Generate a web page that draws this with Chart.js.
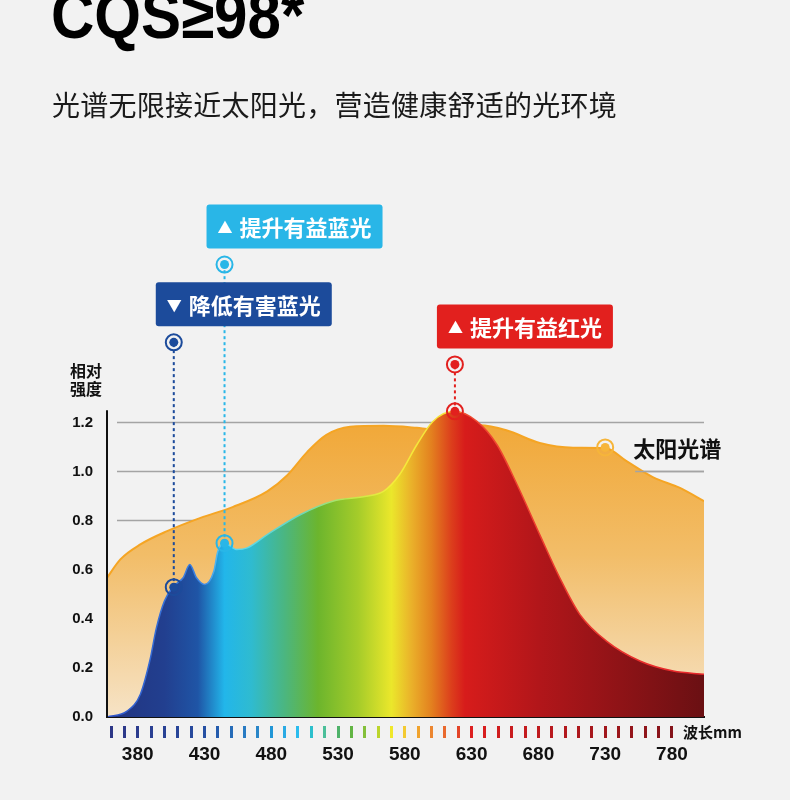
<!DOCTYPE html>
<html>
<head>
<meta charset="utf-8">
<script src="https://cdn.jsdelivr.net/npm/chart.js@4.4.0/dist/chart.umd.min.js"></script>
<style>
    body { margin: 0; background: #f2f2f2; }
    #wrap { position: relative; width: 790px; height: 800px; overflow: hidden; background: #f2f2f2; }
    #spectrum { position: absolute; left: 0; top: 0; }
    .txt { position: absolute; white-space: nowrap; color: #111; }
    #title { left: 51px; top: -18px; font: bold 66px/66px "Liberation Sans", Arial, sans-serif; color: #000; transform: scaleX(0.91); transform-origin: 0 0; }
    #subtitle { left: 52px; top: 90px; font: 28px/28px "Noto Sans CJK SC", sans-serif; letter-spacing: 0.25px; color: #1a1a1a; }
    #yCaption { left: 70px; top: 361px; font: bold 16px/18px "Noto Sans CJK SC", sans-serif; }
    #xCaption { left: 683px; top: 721px; font: bold 15px/22px "Noto Sans CJK SC", sans-serif; }
</style>
</head>
<body>
<div id="wrap">
    <canvas id="spectrum" width="790" height="800"></canvas>
    <div class="txt" id="title">CQS≥98*</div>
    <div class="txt" id="subtitle">光谱无限接近太阳光，营造健康舒适的光环境</div>
    <div class="txt" id="yCaption">相对<br>强度</div>
    <div class="txt" id="xCaption">波长mm</div>
</div>
<script>
// 太阳光谱
const sunWavelength = [357, 367, 382, 402, 427, 451, 477, 492, 507, 521, 539, 564, 589, 600, 615, 636, 656, 681, 706, 730, 746, 766, 786, 804];
const sunIntensity = [0.567, 0.642, 0.703, 0.757, 0.811, 0.855, 0.919, 0.985, 1.08, 1.148, 1.182, 1.186, 1.178, 1.172, 1.178, 1.188, 1.168, 1.116, 1.097, 1.096, 1.042, 0.976, 0.933, 0.879];

// 灯光光谱
const ledWavelength = [357, 372, 382, 389, 394, 400, 407, 414, 419, 424, 430, 437, 440, 445, 454, 462, 477, 502, 526, 551, 564, 576, 589, 601, 617, 634, 649, 664, 681, 696, 711, 731, 756, 781, 804];
const ledIntensity = [0, 0.024, 0.093, 0.228, 0.363, 0.472, 0.533, 0.567, 0.621, 0.567, 0.54, 0.594, 0.675, 0.709, 0.682, 0.689, 0.743, 0.825, 0.879, 0.899, 0.919, 0.987, 1.109, 1.204, 1.245, 1.204, 1.109, 0.947, 0.743, 0.567, 0.418, 0.309, 0.228, 0.187, 0.174];

// 标注
const calloutArrows = ['▼', '▲', '▲'];
const calloutLabels = ['降低有害蓝光', '提升有益蓝光', '提升有益红光'];
const calloutWavelength = [407, 445, 617.5];
const calloutLow = [0.529, 0.708, 1.245];
const calloutHigh = [1.526, 1.843, 1.436];
const sunMarkerWavelength = 730;
const sunMarkerIntensity = 1.098;
const sunLabel = '太阳光谱';

// 坐标轴
const yTickValues = [0, 0.2, 0.4, 0.6, 0.8, 1.0, 1.2];
const yAxisTop = 1.25;
const xTickValues = [380, 430, 480, 530, 580, 630, 680, 730, 780];
const stripWavelengths = [360, 370, 380, 390, 400, 410, 420, 430, 440, 450, 460, 470, 480, 490, 500, 510, 520, 530, 540, 550, 560, 570, 580, 590, 600, 610, 620, 630, 640, 650, 660, 670, 680, 690, 700, 710, 720, 730, 740, 750, 760, 770, 780];

// 颜色
const calloutColors = ['#1c4b9b', '#29b6e7', '#e2201e'];
const sunColor = '#f6b53a';
const stripColors = ['#2c3787', '#2c398a', '#2b3c8e', '#2a3f92', '#294295', '#284598', '#27499c', '#2650a3', '#255cad', '#266cb8', '#297bc3', '#2a86c8', '#2196d6', '#2aaae4', '#2bbcee', '#2cbfcc', '#4bbf9a', '#4fb26a', '#62b543', '#84c03a', '#bcd52c', '#f0e82a', '#f3ca32', '#f0a32e', '#ec8630', '#e9692e', '#e34528', '#dd2020', '#d81e1e', '#d01d1e', '#c91c1e', '#c41b1e', '#bf1a1e', '#b9191e', '#b3181d', '#ad181d', '#a7171c', '#a1161c', '#9b161b', '#95151b', '#8f151a', '#8a141a', '#85141a'];
const ledFillNm = [357, 400, 425, 445, 465, 490, 515, 545, 570, 585, 600, 615, 625, 680, 804];
const ledFillColors = ['#22337f', '#223f8f', '#1f55a6', '#22b6ea', '#2fbbd0', '#4bb680', '#6cb52d', '#a5cc2a', '#ebe72b', '#eab12a', '#e3801f', '#dc3e1c', '#d71c1b', '#b2161a', '#6a1013'];
const ledEdgeNm = [357, 430, 445, 500, 540, 570, 615, 625, 804];
const ledEdgeColors = ['#2e52c8', '#3d86e3', '#5ad8f8', '#66d6c0', '#c4e84a', '#f5ec3a', '#f5e13a', '#f04a30', '#e8252a'];

function toPoints(xs, ys) {
    return xs.map((x, i) => ({ x: x, y: ys[i] }));
}

function ledGradient(chart, stopsNm, colors) {
    const { ctx, chartArea, scales } = chart;
    if (!chartArea) return colors[0];
    const g = ctx.createLinearGradient(chartArea.left, 0, chartArea.right, 0);
    const w = chartArea.right - chartArea.left;
    stopsNm.forEach((nm, i) => {
        const p = (scales.x.getPixelForValue(nm) - chartArea.left) / w;
        g.addColorStop(Math.min(1, Math.max(0, p)), colors[i]);
    });
    return g;
}

function sunGradient(chart) {
    const { ctx, chartArea, scales } = chart;
    if (!chartArea) return '#f2b455';
    const g = ctx.createLinearGradient(0, scales.y.getPixelForValue(1.2), 0, chartArea.bottom);
    g.addColorStop(0, '#f1a838');
    g.addColorStop(0.45, '#f2bd68');
    g.addColorStop(1, '#f6e3c6');
    return g;
}

// 网格线与纵轴线
const partialGrid = {
    id: 'partialGrid',
    beforeDatasetsDraw(chart) {
        const { ctx, chartArea, scales: { y } } = chart;
        ctx.save();
        ctx.strokeStyle = '#a4a4a4';
        ctx.lineWidth = 1.5;
        yTickValues.forEach(v => {
            if (v === 0) return;
            const py = y.getPixelForValue(v);
            ctx.beginPath();
            ctx.moveTo(chartArea.left + 10, py);
            ctx.lineTo(chartArea.right, py);
            ctx.stroke();
        });
        ctx.restore();
    },
    afterDatasetsDraw(chart) {
        const { ctx, chartArea, scales: { y } } = chart;
        ctx.save();
        ctx.strokeStyle = '#111';
        ctx.lineWidth = 2;
        ctx.beginPath();
        ctx.moveTo(chartArea.left, y.getPixelForValue(0) + 1);
        ctx.lineTo(chartArea.left, y.getPixelForValue(yAxisTop));
        ctx.stroke();
        ctx.restore();
    }
};

const callouts = {
    id: 'callouts',
    afterDatasetsDraw(chart) {
        const { ctx, chartArea, scales: { x, y } } = chart;
        ctx.save();
        calloutLabels.forEach((label, i) => {
            const px = x.getPixelForValue(calloutWavelength[i]);
            const py = y.getPixelForValue(calloutHigh[i]);
            const bx = px - 18, by = py - 60, bw = 176, bh = 44;
            ctx.fillStyle = calloutColors[i];
            ctx.beginPath();
            ctx.roundRect(bx, by, bw, bh, 3);
            ctx.fill();
            ctx.fillStyle = '#fff';
            ctx.textBaseline = 'middle';
            ctx.textAlign = 'left';
            ctx.font = '15px "Noto Sans CJK SC"';
            ctx.fillText(calloutArrows[i], bx + 11, by + bh / 2 + 1);
            ctx.font = 'bold 22px "Noto Sans CJK SC"';
            ctx.fillText(label, bx + 33, by + bh / 2 + 1);
        });

        // 太阳光谱
        const sx = x.getPixelForValue(sunMarkerWavelength);
        const sy = y.getPixelForValue(sunMarkerIntensity);
        ctx.fillStyle = '#111';
        ctx.font = 'bold 22px "Noto Sans CJK SC"';
        ctx.fillText(sunLabel, sx + 28, sy + 1);
        ctx.strokeStyle = '#a4a4a4';
        ctx.lineWidth = 1.5;
        const ly = y.getPixelForValue(1.0);
        ctx.beginPath();
        ctx.moveTo(sx + 30, ly);
        ctx.lineTo(chartArea.right, ly);
        ctx.stroke();
        ctx.restore();
    }
};

const tickStrip = {
    id: 'tickStrip',
    afterDraw(chart) {
        const { ctx, chartArea, scales: { x } } = chart;
        ctx.save();
        stripWavelengths.forEach((nm, i) => {
            const px = x.getPixelForValue(nm);
            ctx.fillStyle = stripColors[i];
            ctx.fillRect(Math.round(px - 1.5), chartArea.bottom + 9, 3, 12);
        });
        ctx.restore();
    }
};

const calloutLines = calloutLabels.map((label, i) => ({
    type: 'line',
    data: [{ x: calloutWavelength[i], y: calloutLow[i] }, { x: calloutWavelength[i], y: calloutHigh[i] }],
    borderColor: calloutColors[i],
    borderWidth: 2,
    borderDash: [3, 3],
    pointRadius: 8,
    pointBorderWidth: 2,
    pointBorderColor: calloutColors[i],
    pointBackgroundColor: 'rgba(0,0,0,0)',
    fill: false,
    order: 1
}));

const calloutDots = calloutLabels.map((label, i) => ({
    type: 'scatter',
    data: [{ x: calloutWavelength[i], y: calloutLow[i] }, { x: calloutWavelength[i], y: calloutHigh[i] }],
    pointRadius: 4.5,
    pointBorderWidth: 0,
    pointBorderColor: calloutColors[i],
    pointBackgroundColor: calloutColors[i],
    backgroundColor: calloutColors[i],
    showLine: false,
    order: 0
}));

const ctx = document.getElementById('spectrum').getContext('2d');

const chart = new Chart(ctx, {
    type: 'line',
    data: {
        datasets: [
            ...calloutDots,
            ...calloutLines,
            {
                type: 'scatter',
                data: [{ x: sunMarkerWavelength, y: sunMarkerIntensity }],
                pointRadius: 8,
                pointBorderWidth: 2,
                pointBorderColor: sunColor,
                pointBackgroundColor: 'rgba(0,0,0,0)',
                showLine: false,
                order: 1
            },
            {
                type: 'scatter',
                data: [{ x: sunMarkerWavelength, y: sunMarkerIntensity }],
                pointRadius: 4.5,
                pointBorderWidth: 0,
                pointBackgroundColor: sunColor,
                backgroundColor: sunColor,
                showLine: false,
                order: 0
            },
            {
                data: toPoints(ledWavelength, ledIntensity),
                borderColor: (c) => ledGradient(c.chart, ledEdgeNm, ledEdgeColors),
                backgroundColor: (c) => ledGradient(c.chart, ledFillNm, ledFillColors),
                borderWidth: 1.5,
                fill: 'origin',
                pointRadius: 0,
                cubicInterpolationMode: 'monotone',
                order: 4
            },
            {
                data: toPoints(sunWavelength, sunIntensity),
                borderColor: '#f5a524',
                backgroundColor: (c) => sunGradient(c.chart),
                borderWidth: 2,
                fill: 'origin',
                pointRadius: 0,
                cubicInterpolationMode: 'monotone',
                order: 5
            }
        ]
    },
    options: {
        responsive: false,
        animation: false,
        devicePixelRatio: 1,
        layout: {
            padding: { left: 0, right: 86, top: 226, bottom: 0 }
        },
        plugins: {
            legend: { display: false },
            tooltip: { enabled: false },
            filler: { propagate: false }
        },
        scales: {
            x: {
                type: 'linear',
                min: 357,
                max: 804,
                afterBuildTicks: (scale) => { scale.ticks = xTickValues.map(v => ({ value: v })); },
                afterFit: (scale) => { scale.height = 83; },
                grid: { display: false, drawTicks: false },
                border: { display: true, color: '#111', width: 2 },
                ticks: {
                    padding: 26,
                    color: '#111',
                    font: { family: '"Liberation Sans", Arial, sans-serif', size: 19, weight: 'bold' }
                }
            },
            y: {
                min: 0,
                max: 2.0,
                afterBuildTicks: (scale) => { scale.ticks = yTickValues.map(v => ({ value: v })); },
                afterFit: (scale) => { scale.width = 107; },
                grid: { display: false, drawTicks: false },
                border: { display: false },
                ticks: {
                    padding: 14,
                    color: '#111',
                    font: { family: '"Liberation Sans", Arial, sans-serif', size: 15, weight: 'bold' },
                    callback: (v) => v.toFixed(1)
                }
            }
        }
    },
    plugins: [partialGrid, callouts, tickStrip]
});
</script>
</body>
</html>
